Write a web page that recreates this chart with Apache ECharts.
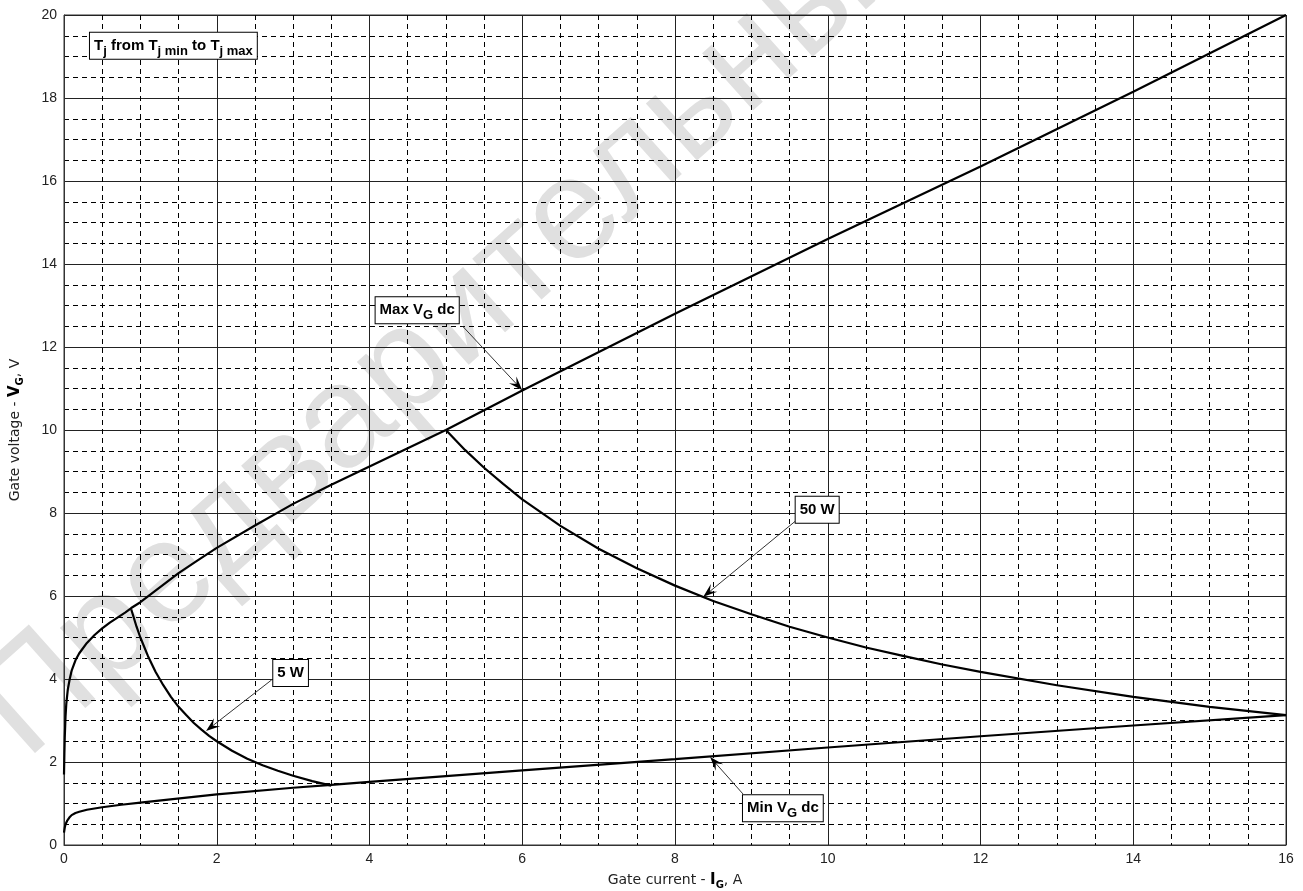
<!DOCTYPE html>
<html>
<head>
<meta charset="utf-8">
<script src="https://cdn.jsdelivr.net/npm/echarts@6/dist/echarts.min.js"></script>
<style>
html, body { margin: 0; padding: 0; background: #fff; }
#chart { width: 1303px; height: 891px; }
</style>
</head>
<body>
<div id="chart"></div>
<script>
// gate current (A) / gate voltage (V) pairs
var maxVg = [[0, 1.7], [0.005, 2.2], [0.01, 2.6], [0.02, 3.1], [0.03, 3.4], [0.05, 3.75], [0.075, 4.0],
    [0.1, 4.2], [0.15, 4.45], [0.2, 4.62], [0.3, 4.87], [0.4, 5.06], [0.5, 5.22], [0.6, 5.36],
    [0.7, 5.48], [0.8, 5.6], [0.88, 5.71], [1.0, 5.85], [1.25, 6.2], [1.5, 6.55], [1.75, 6.86],
    [2, 7.16], [2.5, 7.7], [3, 8.22], [3.5, 8.68], [4, 9.12], [4.5, 9.56], [5, 10], [6, 10.95],
    [8, 12.8], [10, 14.6], [12, 16.35], [14, 18.15], [16, 20]];
var minVg = [[0, 0.3], [0.01, 0.42], [0.02, 0.5], [0.04, 0.58], [0.07, 0.66], [0.1, 0.72], [0.15, 0.77],
    [0.2, 0.8], [0.3, 0.85], [0.5, 0.91], [0.75, 0.97], [1, 1.02], [2, 1.22], [3, 1.38], [3.5, 1.45],
    [4, 1.52], [6, 1.8], [8, 2.07], [10, 2.35], [12, 2.62], [14, 2.88], [16, 3.13]];
var pow5 = [[0.88, 5.68], [0.95, 5.26], [1.0, 5.0], [1.1, 4.55], [1.2, 4.17], [1.3, 3.85], [1.4, 3.57],
    [1.5, 3.33], [1.6, 3.13], [1.7, 2.94], [1.8, 2.78], [1.9, 2.63], [2.0, 2.5], [2.2, 2.27],
    [2.4, 2.08], [2.6, 1.92], [2.8, 1.79], [3.0, 1.67], [3.25, 1.54], [3.5, 1.43]];
var pow50 = [[5, 10], [5.25, 9.52], [5.5, 9.09], [5.75, 8.7], [6, 8.33], [6.5, 7.69], [7, 7.14],
    [7.5, 6.67], [8, 6.25], [8.5, 5.88], [9, 5.56], [9.5, 5.26], [10, 5.0], [10.5, 4.76], [11, 4.55],
    [11.5, 4.35], [12, 4.17], [13, 3.85], [14, 3.57], [15, 3.33], [16, 3.13]];

// callouts: text, top-left corner of the box and arrow ends, all in data units
var notes = [
    { text: '{b|Max V}{s|G}{b| dc}', box: [4.08, 13.2], from: [5.22, 12.5], to: [6.0, 10.96] },
    { text: '{b|50 W}', box: [9.58, 8.39], from: [9.58, 7.81], to: [8.37, 5.98] },
    { text: '{b|5 W}', box: [2.74, 4.46], from: [2.72, 3.98], to: [1.86, 2.75] },
    { text: '{b|Min V}{s|G}{b| dc}', box: [8.89, 1.2], from: [8.89, 1.23], to: [8.46, 2.12] },
    { text: '{b|T}{s|j}{b| from T}{s|j min}{b| to T}{s|j max}', box: [0.34, 19.57] }
];

var chart = echarts.init(document.getElementById('chart'));

var boxRich = {
    b: { fontFamily: 'Liberation Sans', fontWeight: 'bold', fontSize: 15, color: '#000', lineHeight: 24 },
    s: { fontFamily: 'Liberation Sans', fontWeight: 'bold', fontSize: 13, color: '#000', lineHeight: 14, verticalAlign: 'bottom' }
};
var nameRich = {
    n: { fontFamily: 'DejaVu Sans', fontSize: 14, color: '#222', lineHeight: 20 },
    b: { fontFamily: 'DejaVu Sans', fontSize: 15, fontWeight: 'bold', color: '#000', lineHeight: 20 },
    s: { fontFamily: 'DejaVu Sans', fontSize: 10, fontWeight: 'bold', color: '#000', lineHeight: 10, verticalAlign: 'bottom' }
};

function axisCommon() {
    return {
        type: 'value',
        interval: 2,
        axisLine: { show: true, onZero: false, lineStyle: { color: '#333', width: 1 } },
        axisTick: { show: false },
        axisLabel: { color: '#222', fontSize: 14, fontFamily: 'Liberation Sans' },
        splitLine: { show: true, lineStyle: { color: '#222', width: 1 } },
        minorTick: { show: false, splitNumber: 4 },
        minorSplitLine: { show: true, lineStyle: { color: '#000', width: 1, type: [5, 4] } },
        nameLocation: 'middle',
        nameTextStyle: { rich: nameRich }
    };
}

var xAxis = axisCommon();
xAxis.min = 0; xAxis.max = 16;
xAxis.axisLabel.margin = 7;
xAxis.name = '{n|Gate current - }{b|I}{s|G}{n|, A}';
xAxis.nameGap = 25;

var yAxis = axisCommon();
yAxis.min = 0; yAxis.max = 20;
yAxis.axisLabel.margin = 7;
yAxis.name = '{n|Gate voltage - }{b|V}{s|G}{n|, V}';
yAxis.nameGap = 39;

function curve(data) {
    return {
        type: 'line',
        data: data,
        showSymbol: false,
        silent: true,
        lineStyle: { color: '#000', width: 2.2 },
        z: 5
    };
}

var option = {
    animation: false,
    backgroundColor: '#fff',
    grid: {
        left: 64, right: 17, top: 15, bottom: 46,
        containLabel: false, outerBoundsMode: 'none',
        show: true, borderColor: '#333', borderWidth: 1
    },
    xAxis: xAxis,
    yAxis: yAxis,
    series: [curve(maxVg), curve(minVg), curve(pow5), curve(pow50)]
};
chart.setOption(option);

// watermark and callouts, placed through the axes
function px(p) { return chart.convertToPixel({ gridIndex: 0 }, p); }
var elements = [{
    type: 'text',
    z: -10,
    x: 48, y: 785,
    rotation: 0.73,
    style: {
        text: 'Предварительные',
        fontFamily: 'Liberation Sans',
        fontSize: 145,
        fill: '#e0e0e0',
        align: 'left', textAlign: 'left',
        verticalAlign: 'bottom', textVerticalAlign: 'bottom'
    }
}];
notes.forEach(function (n) {
    if (n.from) {
        var a = px(n.from), b = px(n.to);
        var dx = b[0] - a[0], dy = b[1] - a[1];
        var len = Math.sqrt(dx * dx + dy * dy);
        var ux = dx / len, uy = dy / len, nx = -uy, ny = ux;
        var L = 14, W = 5;
        elements.push({
            type: 'line', z: 50,
            shape: { x1: a[0], y1: a[1], x2: b[0] - ux * 6, y2: b[1] - uy * 6 },
            style: { stroke: '#333', lineWidth: 1 }
        });
        elements.push({
            type: 'polygon', z: 50,
            shape: { points: [
                [b[0], b[1]],
                [b[0] - ux * L + nx * W, b[1] - uy * L + ny * W],
                [b[0] - ux * L * 0.6, b[1] - uy * L * 0.6],
                [b[0] - ux * L - nx * W, b[1] - uy * L - ny * W]
            ] },
            style: { fill: '#000' }
        });
    }
    var p = px(n.box);
    elements.push({
        type: 'text', z: 60,
        x: p[0], y: p[1],
        style: {
            text: n.text,
            rich: boxRich,
            align: 'left', textAlign: 'left',
            verticalAlign: 'top', textVerticalAlign: 'top',
            backgroundColor: '#fff',
            borderColor: '#000',
            borderWidth: 1,
            padding: [1, 4, 1, 4]
        }
    });
});
chart.setOption({ graphic: { elements: elements } });
</script>
</body>
</html>
